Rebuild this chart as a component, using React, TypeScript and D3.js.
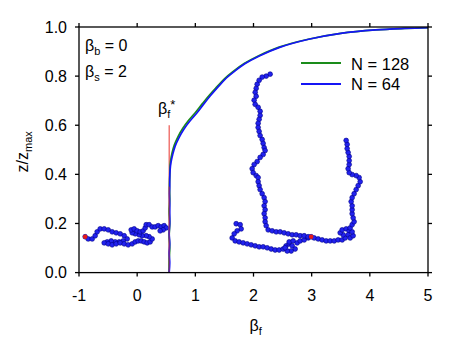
import React from 'react';
import * as d3 from 'd3';

// order parameter curves (beta_f, z/zmax)
const curveN64: [number, number][] = [
  [0.55, 0.0], [0.56, 0.04], [0.55, 0.08], [0.56, 0.12], [0.55, 0.16], [0.56, 0.2],
  [0.56, 0.24], [0.56, 0.28], [0.555, 0.32], [0.56, 0.35], [0.56, 0.38], [0.567, 0.42],
  [0.58, 0.447], [0.61, 0.48], [0.653, 0.515], [0.72, 0.55], [0.8, 0.583], [0.9, 0.615],
  [1.03, 0.651], [1.14, 0.685], [1.255, 0.719], [1.38, 0.753], [1.51, 0.787], [1.65, 0.815],
  [1.85, 0.85], [2.1, 0.882], [2.45, 0.917], [2.95, 0.95], [3.5, 0.974], [4.1, 0.988],
  [4.6, 0.994], [5.0, 0.997],
];
const curveN128: [number, number][] = [
  [0.55, 0.0], [0.55, 0.05], [0.56, 0.1], [0.55, 0.15], [0.56, 0.2], [0.55, 0.25],
  [0.56, 0.3], [0.555, 0.35], [0.56, 0.39], [0.565, 0.43], [0.575, 0.455], [0.6, 0.487],
  [0.64, 0.52], [0.705, 0.555], [0.785, 0.588], [0.885, 0.62], [1.015, 0.656], [1.125, 0.689],
  [1.24, 0.722], [1.37, 0.756], [1.5, 0.789], [1.64, 0.817], [1.84, 0.851], [2.09, 0.883],
  [2.44, 0.918], [2.94, 0.95], [3.5, 0.974], [4.1, 0.988], [4.6, 0.994], [5.0, 0.997],
];

const betaStar = 0.55;
const betaStarTop = 0.6;

// polymer snapshots drawn over the plot
const chainLeft: [number, number][] = [
  [-0.894, 0.146], [-0.842, 0.137], [-0.774, 0.137], [-0.722, 0.15], [-0.688, 0.166], [-0.636, 0.178],
  [-0.567, 0.178], [-0.498, 0.174], [-0.43, 0.166], [-0.361, 0.162], [-0.292, 0.158], [-0.223, 0.15],
  [-0.172, 0.137], [-0.241, 0.129], [-0.309, 0.125], [-0.378, 0.125], [-0.447, 0.129], [-0.516, 0.125],
  [-0.567, 0.121], [-0.498, 0.117], [-0.43, 0.113], [-0.361, 0.117], [-0.292, 0.121], [-0.223, 0.117],
  [-0.155, 0.113], [-0.086, 0.117], [-0.034, 0.125], [0.017, 0.129], [0.069, 0.129], [0.12, 0.125],
  [0.172, 0.121], [0.223, 0.125], [0.258, 0.137], [0.206, 0.146], [0.155, 0.15], [0.086, 0.15],
  [0.034, 0.154], [-0.034, 0.158], [-0.086, 0.162], [-0.103, 0.174], [-0.052, 0.178], [0, 0.17],
  [0.052, 0.166], [0.103, 0.17], [0.138, 0.182], [0.155, 0.195], [0.206, 0.195], [0.258, 0.186],
  [0.309, 0.186], [0.361, 0.191], [0.413, 0.186], [0.464, 0.191], [0.499, 0.182], [0.447, 0.174],
  [0.395, 0.17],
];
const chainRight: [number, number][] = [
  [2.286, 0.808], [2.218, 0.8], [2.149, 0.796], [2.097, 0.783], [2.063, 0.767], [2.046, 0.75],
  [2.029, 0.734], [2.046, 0.718], [2.011, 0.702], [2.029, 0.685], [2.08, 0.673], [2.114, 0.657],
  [2.114, 0.64], [2.097, 0.624], [2.08, 0.608], [2.08, 0.591], [2.097, 0.575], [2.114, 0.558],
  [2.149, 0.542], [2.166, 0.526], [2.183, 0.509], [2.2, 0.497], [2.166, 0.481], [2.114, 0.469],
  [2.063, 0.452], [2.011, 0.44], [1.977, 0.423], [1.994, 0.407], [2.046, 0.395], [2.08, 0.387],
  [2.08, 0.37], [2.097, 0.354], [2.114, 0.338], [2.149, 0.321], [2.183, 0.305], [2.2, 0.289],
  [2.183, 0.272], [2.2, 0.256], [2.183, 0.24], [2.2, 0.223], [2.2, 0.207], [2.218, 0.191],
  [2.252, 0.174], [2.321, 0.17], [2.39, 0.166], [2.458, 0.166], [2.527, 0.162], [2.596, 0.158],
  [2.665, 0.154], [2.733, 0.154], [2.802, 0.15], [2.871, 0.15], [2.94, 0.146], [2.991, 0.146],
  [3.043, 0.141], [3.112, 0.137], [3.18, 0.133], [3.249, 0.129], [3.318, 0.129], [3.387, 0.129],
  [3.455, 0.133], [3.524, 0.133], [3.576, 0.141], [3.541, 0.154], [3.49, 0.162], [3.524, 0.174],
  [3.593, 0.178], [3.645, 0.17], [3.627, 0.154], [3.662, 0.141], [3.713, 0.15], [3.696, 0.166],
  [3.662, 0.182], [3.696, 0.195], [3.73, 0.207], [3.713, 0.223], [3.696, 0.24], [3.696, 0.256],
  [3.696, 0.272], [3.679, 0.289], [3.696, 0.305], [3.73, 0.321], [3.765, 0.338], [3.799, 0.354],
  [3.834, 0.37], [3.816, 0.387], [3.765, 0.395], [3.696, 0.399], [3.645, 0.407], [3.627, 0.423],
  [3.645, 0.44], [3.645, 0.456], [3.645, 0.473], [3.627, 0.489], [3.61, 0.505], [3.61, 0.522],
  [3.593, 0.538],
];
const chainRightBranch: [number, number][] = [
  [1.702, 0.199], [1.771, 0.195], [1.788, 0.178], [1.719, 0.17], [1.668, 0.158], [1.633, 0.141],
  [1.685, 0.129], [1.753, 0.125], [1.822, 0.121], [1.891, 0.117], [1.96, 0.113], [2.029, 0.109],
  [2.097, 0.105], [2.166, 0.105], [2.235, 0.101], [2.304, 0.096], [2.372, 0.092], [2.441, 0.092],
  [2.51, 0.096], [2.561, 0.109], [2.613, 0.117], [2.665, 0.109], [2.716, 0.096], [2.647, 0.088],
  [2.579, 0.088], [2.544, 0.101], [2.613, 0.125], [2.682, 0.129], [2.751, 0.121], [2.802, 0.129],
  [2.871, 0.133], [2.94, 0.141],
];
const anchorBeads: [number, number][] = [[-0.894, 0.146], [2.991, 0.146]];

const xTicks = [-1, 0, 1, 2, 3, 4, 5];
const yTicks = [0, 0.2, 0.4, 0.6, 0.8, 1.0];

const W = 471;
const H = 349;
const m = { left: 79, right: 43, top: 27, bottom: 76.4 };
const font = 'Liberation Sans, Arial, sans-serif';

export default function App() {
  const x = d3.scaleLinear().domain([-1, 5]).range([m.left, W - m.right]);
  const y = d3.scaleLinear().domain([0, 1]).range([H - m.bottom, m.top]);
  const line = d3.line<[number, number]>().x(d => x(d[0])).y(d => y(d[1]));
  const smooth = d3.line<[number, number]>().x(d => x(d[0])).y(d => y(d[1])).curve(d3.curveCatmullRom);
  const fmt = d3.format('.1f');
  const x0 = x(-1), x1 = x(5), y0 = y(0), y1 = y(1);

  const chain = (pts: [number, number][], key: string) => (
    <g key={key}>
      <path d={line(pts) || ''} fill="none" stroke="#0000c0" strokeWidth={1.5} />
      {pts.map((p, i) => (
        <circle key={i} cx={x(p[0])} cy={y(p[1])} r={2.4} fill="#2222ee" stroke="#000088" strokeWidth={0.6} />
      ))}
    </g>
  );

  return (
    <svg width={W} height={H} style={{ position: 'absolute', left: 0, top: 0, background: '#fff' }} fontFamily={font}>
      {/* chains */}
      {chain(chainLeft, 'cl')}
      {chain(chainRightBranch, 'crb')}
      {chain(chainRight, 'cr')}
      {anchorBeads.map((p, i) => (
        <circle key={i} cx={x(p[0])} cy={y(p[1])} r={2.3} fill="#e41a1a" />
      ))}

      {/* curves */}
      <line x1={x(betaStar)} x2={x(betaStar)} y1={y(0)} y2={y(betaStarTop)} stroke="#e8342c" strokeWidth={1} />
      <path d={smooth(curveN128) || ''} fill="none" stroke="#1a8c1a" strokeWidth={1.7} />
      <path d={smooth(curveN64) || ''} fill="none" stroke="#1515f5" strokeWidth={1.7} />
      <line x1={x(betaStar)} x2={x(betaStar)} y1={y(0)} y2={y(0.35)} stroke="#e8342c" strokeWidth={0.8} opacity={0.8} />

      {/* frame */}
      <rect x={x0} y={y1} width={x1 - x0} height={y0 - y1} fill="none" stroke="#000" strokeWidth={1.3} />
      {xTicks.map(t => (
        <g key={t}>
          <line x1={x(t)} x2={x(t)} y1={y0} y2={y0 + 4} stroke="#000" strokeWidth={1.3} />
          <line x1={x(t)} x2={x(t)} y1={y1} y2={y1 - 4} stroke="#000" strokeWidth={1.3} />
          <text x={x(t)} y={y0 + 28} textAnchor="middle" fontSize={16}>{t}</text>
        </g>
      ))}
      {yTicks.map(t => (
        <g key={t}>
          <line x1={x0 - 4} x2={x0} y1={y(t)} y2={y(t)} stroke="#000" strokeWidth={1.3} />
          <line x1={x1} x2={x1 + 4} y1={y(t)} y2={y(t)} stroke="#000" strokeWidth={1.3} />
          <text x={x0 - 12} y={y(t)} dy="0.36em" textAnchor="end" fontSize={16}>{fmt(t)}</text>
        </g>
      ))}

      {/* axis labels */}
      <text x={(x0 + x1) / 2 - 4} y={331} fontSize={16}>
        β<tspan fontSize={11} dy={4}>f</tspan>
      </text>
      <text transform={`translate(28,${(y0 + y1) / 2 + 2}) rotate(-90)`} textAnchor="middle" fontSize={16}>
        z/z<tspan fontSize={11} dy={4}>max</tspan>
      </text>

      {/* annotations */}
      <text x={85} y={51} fontSize={16}>
        β<tspan fontSize={11} dy={4}>b</tspan><tspan dy={-4}> = 0</tspan>
      </text>
      <text x={85} y={77} fontSize={16}>
        β<tspan fontSize={11} dy={4}>s</tspan><tspan dy={-4}> = 2</tspan>
      </text>
      <text x={158} y={114} fontSize={16}>
        β<tspan fontSize={11} dy={4}>f</tspan><tspan fontSize={13} dy={-9}>*</tspan>
      </text>

      {/* legend */}
      <line x1={301} x2={341} y1={63} y2={63} stroke="#1a8c1a" strokeWidth={2} />
      <text x={351} y={69.5} fontSize={16.5}>N = 128</text>
      <line x1={301} x2={341} y1={84} y2={84} stroke="#1515f5" strokeWidth={2} />
      <text x={351} y={90} fontSize={16.5}>N = 64</text>
    </svg>
  );
}
